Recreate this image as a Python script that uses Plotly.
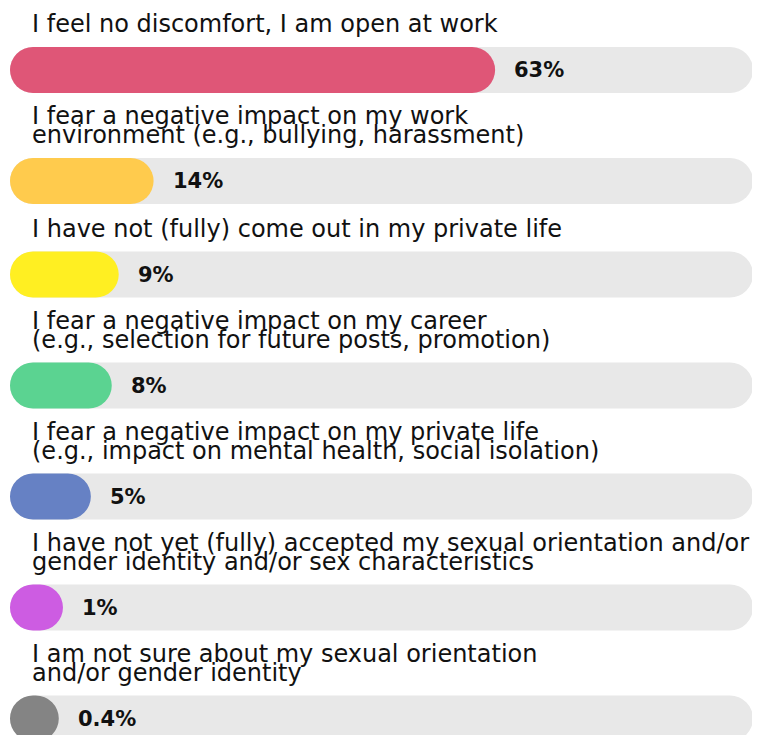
import plotly.graph_objects as go

# ---- data ----
labels = [
    ["I feel no discomfort, I am open at work"],
    ["I fear a negative impact on my work", "environment (e.g., bullying, harassment)"],
    ["I have not (fully) come out in my private life"],
    ["I fear a negative impact on my career", "(e.g., selection for future posts, promotion)"],
    ["I fear a negative impact on my private life", "(e.g., impact on mental health, social isolation)"],
    ["I have not yet (fully) accepted my sexual orientation and/or", "gender identity and/or sex characteristics"],
    ["I am not sure about my sexual orientation", "and/or gender identity"],
]
values = [63, 14, 9, 8, 5, 1, 0.4]
value_text = ["63%", "14%", "9%", "8%", "5%", "1%", "0.4%"]
colors = ["#DF5677", "#FFCB4D", "#FFEF22", "#5BD391", "#6681C4", "#CD5CE2", "#848484"]

# ---- layout constants (pixels, page body has an 8px margin) ----
OFF = 8
W, H = 760 - OFF, 735 - OFF
BAR_H = 46
TRACK_L, TRACK_R = 10 - OFF, 753 - OFF
PX_PER_UNIT = (TRACK_R - TRACK_L - BAR_H) / 100.0
CAP = BAR_H / PX_PER_UNIT          # rounded-cap length in value units
x_min = -TRACK_L / PX_PER_UNIT
x_max = (W - TRACK_L) / PX_PER_UNIT
LINE_H = 19
FONT = "DejaVu Sans"

# bar centre positions derived from number of label lines
centers = []
c = 70.0 - OFF
for i, lab in enumerate(labels):
    if i > 0:
        c += 76 + 17.5 * len(lab)
    centers.append(c)

fig = go.Figure()
fig.add_trace(go.Bar(
    y=centers, x=[100 + CAP] * len(values), base=0, orientation="h",
    width=BAR_H, marker=dict(color="#E8E8E8", cornerradius="50%", line_width=0),
    hoverinfo="skip", showlegend=False,
))
fig.add_trace(go.Bar(
    y=centers, x=[v + CAP for v in values], base=0, orientation="h",
    width=BAR_H, marker=dict(color=colors, cornerradius="50%", line_width=0),
    hoverinfo="skip", showlegend=False,
))

ann = []
for lab, cy, v, t in zip(labels, centers, values, value_text):
    top = cy - BAR_H / 2
    n = len(lab)
    for j, line in enumerate(lab):
        ymid = top - 23 - (n - 1 - j) * LINE_H
        ann.append(dict(x=(30 - OFF - TRACK_L) / PX_PER_UNIT, y=ymid, text=line, showarrow=False,
                        xanchor="left", yanchor="middle",
                        font=dict(family=FONT, size=24, color="#111111")))
    ann.append(dict(x=v + CAP, y=cy, text="<b>" + t + "</b>", showarrow=False,
                    xanchor="left", yanchor="middle", xshift=17,
                    font=dict(family=FONT, size=21, color="#111111")))

fig.update_layout(
    width=W, height=H, margin=dict(l=0, r=0, t=0, b=0),
    paper_bgcolor="white", plot_bgcolor="white",
    barmode="overlay", annotations=ann,
    xaxis=dict(range=[x_min, x_max], visible=False, fixedrange=True),
    yaxis=dict(range=[H, 0], visible=False, fixedrange=True),
)
fig.write_html("out.html")
